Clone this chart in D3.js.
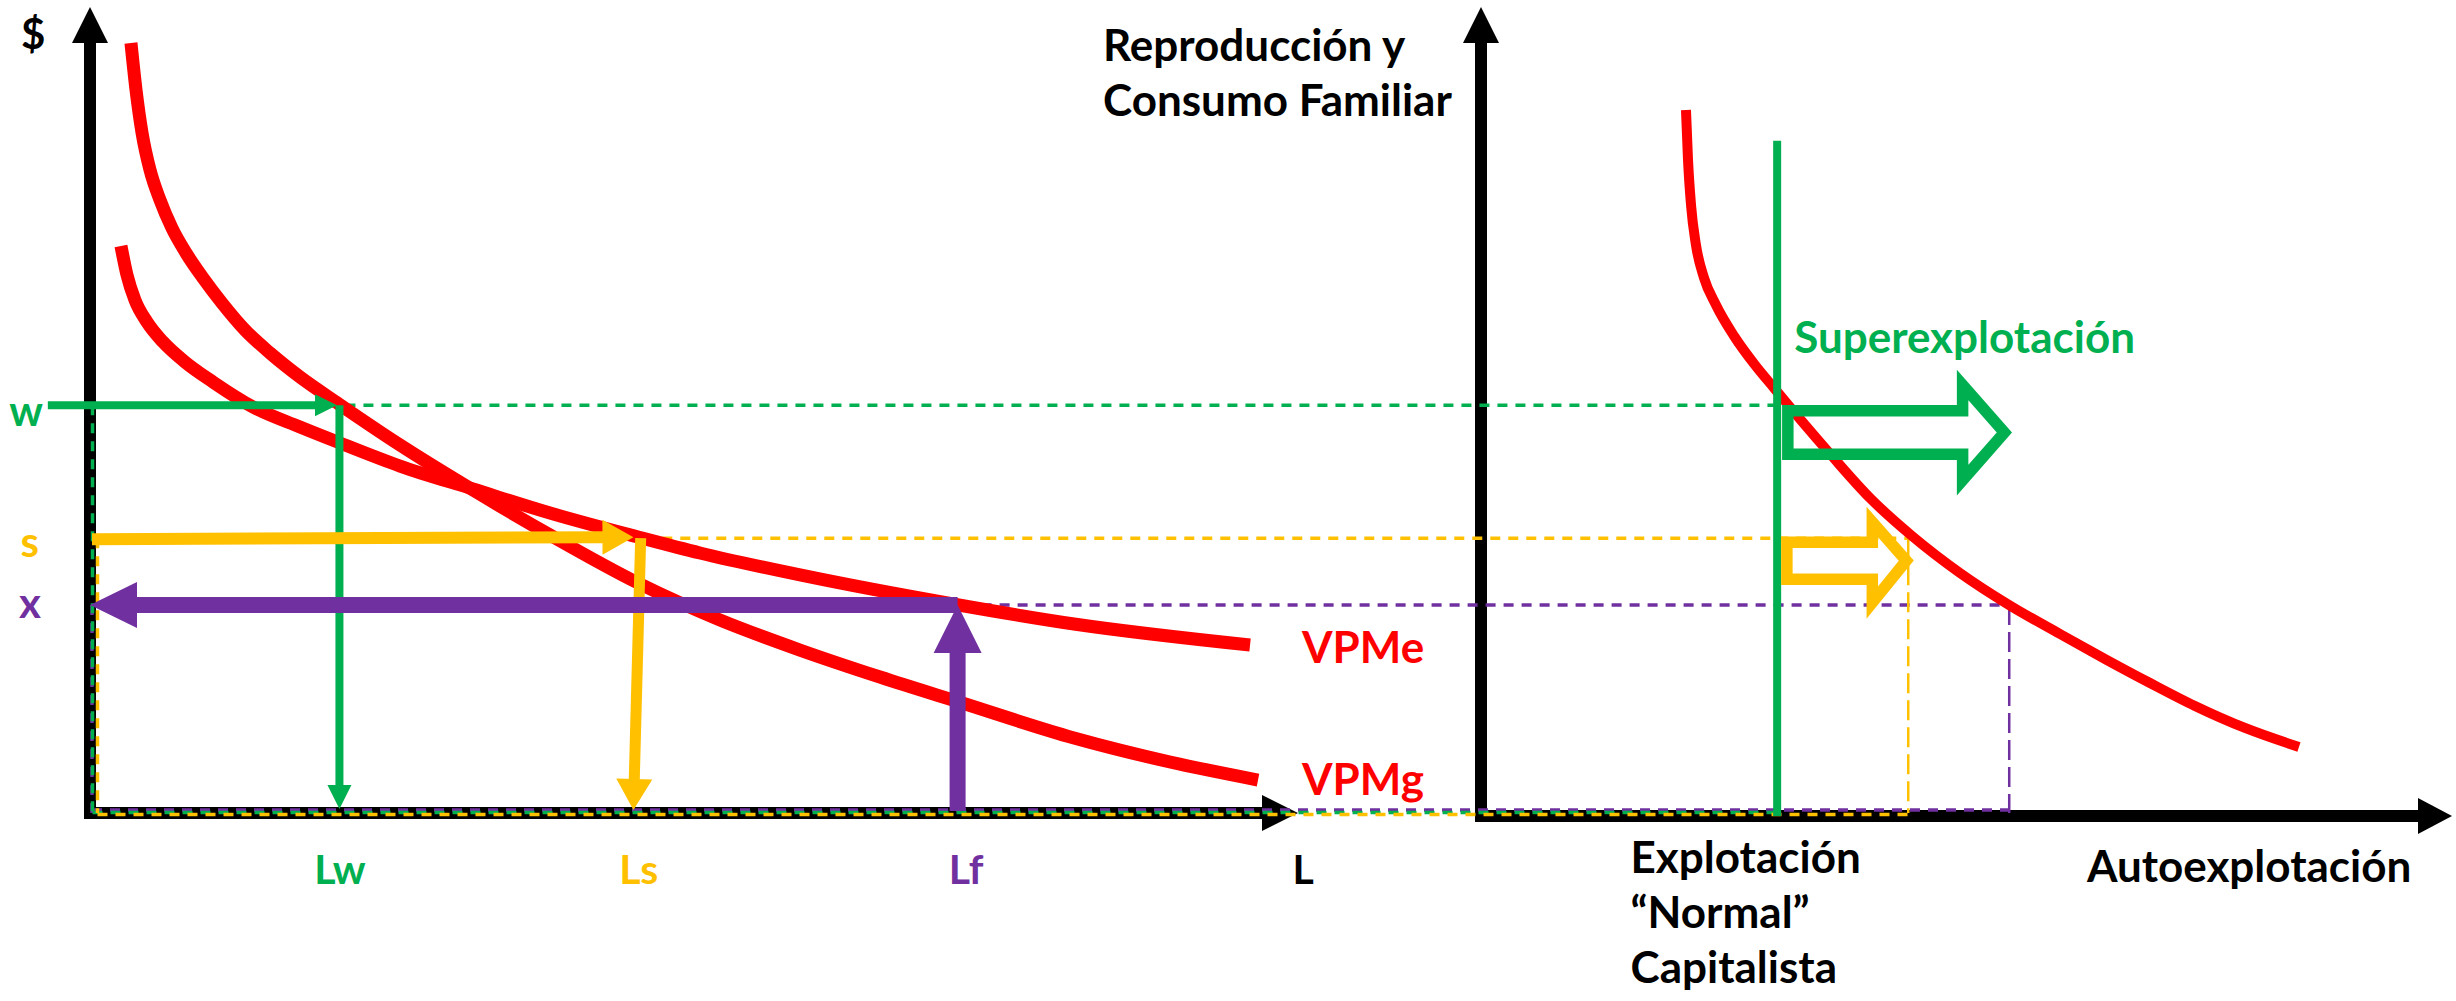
<!DOCTYPE html>
<html><head><meta charset="utf-8">
<script src="https://cdn.jsdelivr.net/npm/d3@7"></script>
<style>html,body{margin:0;padding:0;background:#fff;}svg{display:block;}</style>
</head><body>
<svg id="c" width="2456" height="1001"></svg>
<script>
// ================= DATA =================
// price levels on the $ axis (w, s, x)
const priceNames  = ["w", "s", "x"];
const priceLevels = [50.6, 34.1, 25.8];
// labour quantities on the L axis
const laborNames  = ["Lw", "Ls", "Lf", "L"];
const laborValues = [20.7, 45.5, 72.0, 100.3];
// VPMg curve (steep)
const vpmgL = [3.40, 3.82, 4.32, 4.98, 5.81, 6.80, 7.97, 9.38, 10.95, 12.86, 14.94, 17.43, 20.66, 25.73, 31.78, 38.17, 45.48, 52.28, 58.92, 65.56, 72.12, 81.66, 89.63, 96.93];
const vpmgV = [95.53, 89.70, 84.37, 79.78, 76.05, 72.58, 69.48, 66.38, 63.28, 59.93, 57.07, 54.09, 50.74, 45.66, 40.07, 34.49, 28.54, 23.95, 20.22, 16.87, 13.77, 9.31, 6.33, 4.09];
// VPMe curve (flatter)
const vpmeL = [2.57, 3.07, 3.73, 4.73, 6.06, 7.88, 10.21, 13.53, 17.43, 20.75, 25.73, 31.78, 38.17, 45.48, 50.62, 58.92, 71.62, 81.66, 96.27];
const vpmeV = [70.35, 66.75, 63.65, 60.92, 58.44, 55.96, 53.47, 50.37, 47.89, 45.91, 43.05, 40.20, 37.22, 34.24, 32.26, 29.53, 25.93, 23.45, 20.84];
const curveNames = ["VPMg", "VPMe"];
// right panel: reproduction / family consumption curve
const rightX = [21.11, 21.32, 21.63, 22.14, 22.97, 24.20, 26.06, 28.22, 30.18, 32.85, 36.05, 40.06, 44.39, 49.33, 54.38, 59.63, 64.47, 68.90, 73.53, 78.68, 84.24];
const rightV = [87.22, 81.02, 75.43, 70.47, 66.38, 63.03, 59.18, 55.58, 52.73, 48.88, 44.42, 39.08, 34.37, 29.78, 25.81, 22.21, 18.98, 16.13, 13.28, 10.55, 8.19];
// where each price level meets the right panel (w, s, x)
const rightReach = [30.5, 44.0, 54.4];
const normalTop = 83.4;           // top of "normal exploitation" line
// left-panel arrows
const wArrowStart = -3.5;         // green w arrow starts left of the axis
const wArrowEnd   = 20.5;
const sArrowEnd   = 45.1;
const sDropTop    = 45.7, sDropBottom = 45.1;
// hollow shift arrows (green = superexplotación, yellow = s)
const shiftFrom       = [31.6, 31.5];
const shiftHeadBase   = [49.6, 40.3];
const shiftTip        = [53.9, 43.8];
const shiftShaftTop   = [49.9, 33.6];
const shiftShaftBot   = [44.5, 29.0];
const shiftHeadTop    = [53.1, 36.1];
const shiftHeadBot    = [41.3, 26.1];
// texts
const yAxisTitle   = "$";
const rightTitle   = ["Reproducción y", "Consumo Familiar"];
const superLabel   = "Superexplotación";
const normalLabel  = ["Explotación", "“Normal”", "Capitalista"];
const autoLabel    = "Autoexplotación";
const bottomLabelPos = [15.4, 62.4];

// ================= STYLE =================
const RED = "#FF0000", GREEN = "#00B050", YEL = "#FFC000", PUR = "#7030A0", BLK = "#000";
const levelColors = [GREEN, YEL, PUR];
const laborColors = [GREEN, YEL, PUR, BLK];
const FONT = "Lato, Carlito, Calibri, 'Open Sans', sans-serif";

const svg = d3.select("#c");
const xL = d3.scaleLinear().domain([0, 100]).range([90, 1295]);
const yS = d3.scaleLinear().domain([0, 100]).range([813, 7]);
const xR = d3.scaleLinear().domain([0, 100]).range([1481, 2452]);

function arrow(g, x1, y1, x2, y2, color, w, hl, hh) {
  const dx = x2 - x1, dy = y2 - y1, L = Math.hypot(dx, dy), ux = dx / L, uy = dy / L;
  const bx = x2 - ux * hl, by = y2 - uy * hl;
  g.append("line").attr("x1", x1).attr("y1", y1).attr("x2", bx + ux).attr("y2", by + uy)
    .attr("stroke", color).attr("stroke-width", w);
  g.append("path").attr("d", `M${x2},${y2}L${bx - uy * hh},${by + ux * hh}L${bx + uy * hh},${by - ux * hh}Z`)
    .attr("fill", color);
}
function dash(g, x1, y1, x2, y2, color, w, pat) {
  g.append("line").attr("x1", x1).attr("y1", y1).attr("x2", x2).attr("y2", y2)
    .attr("stroke", color).attr("stroke-width", w).attr("stroke-dasharray", pat || "10,8");
}

// ---------- axes ----------
const gAx = svg.append("g");
const y0 = yS(0);
gAx.append("line").attr("x1", xL(0)).attr("y1", y0 + 6).attr("x2", xL(0)).attr("y2", yS(100) + 35)
  .attr("stroke", BLK).attr("stroke-width", 12);
arrow(gAx, xL(0), y0, xL(0), yS(100), BLK, 12, 36, 18);
arrow(gAx, xL(0) - 6, y0, xL(100) + 3, y0, BLK, 12, 36, 18);
arrow(gAx, xR(0), y0 + 9, xR(0), yS(100), BLK, 12, 36, 18);
arrow(gAx, xR(0) - 6, y0 + 3, xR(100), y0 + 3, BLK, 12, 34, 18);

// ---------- dashed guide rectangles ----------
const gD = svg.append("g");
const startL = [laborValues[0], laborValues[1], laborValues[2]];
const leftDashX = [xL(0) + 2.5, xL(0) + 7.5, xL(0) + 2];
const baseDashY = [y0 - 0.5, y0 + 1.5, y0 - 3];
[2, 0, 1].forEach(i => {
  const c = levelColors[i], yy = yS(priceLevels[i]);
  dash(gD, xL(startL[i]) + 6, yy, xR(rightReach[i]), yy, c, 3.5);
  dash(gD, leftDashX[i], yy, leftDashX[i], y0, c, 3.5);
  dash(gD, leftDashX[i], baseDashY[i], xR(rightReach[i]), baseDashY[i], c, 3.5);
  if (i > 0) dash(gD, xR(rightReach[i]), yy, xR(rightReach[i]), y0, c, 2.5, "20,7");
});

// ---------- red curves ----------
const gC = svg.append("g");
const lineL = d3.line().x(d => xL(d[0])).y(d => yS(d[1])).curve(d3.curveMonotoneX);
const lineR = d3.line().x(d => xR(d[0])).y(d => yS(d[1])).curve(d3.curveMonotoneX);
const vpmg = d3.zip(vpmgL, vpmgV), vpme = d3.zip(vpmeL, vpmeV);
gC.append("path").attr("d", lineL(vpmg)).attr("fill", "none").attr("stroke", RED).attr("stroke-width", 13);
gC.append("path").attr("d", lineL(vpme)).attr("fill", "none").attr("stroke", RED).attr("stroke-width", 13);
gC.append("path").attr("d", lineR(d3.zip(rightX, rightV))).attr("fill", "none").attr("stroke", RED).attr("stroke-width", 10);

// ---------- right panel: normal exploitation line + hollow arrows ----------
const gR = svg.append("g");
gR.append("line").attr("x1", xR(rightReach[0])).attr("x2", xR(rightReach[0]))
  .attr("y1", yS(normalTop)).attr("y2", y0 + 3).attr("stroke", GREEN).attr("stroke-width", 8);
[0, 1].forEach(i => {
  const c = i === 0 ? GREEN : YEL;
  const tipY = (shiftShaftTop[i] + shiftShaftBot[i]) / 2;
  const pts = [
    [shiftFrom[i], shiftShaftTop[i]], [shiftHeadBase[i], shiftShaftTop[i]], [shiftHeadBase[i], shiftHeadTop[i]],
    [shiftTip[i], tipY], [shiftHeadBase[i], shiftHeadBot[i]], [shiftHeadBase[i], shiftShaftBot[i]],
    [shiftFrom[i], shiftShaftBot[i]]
  ];
  gR.append("path").attr("d", d3.line().x(d => xR(d[0])).y(d => yS(d[1]))(pts) + "Z")
    .attr("fill", "none").attr("stroke", c).attr("stroke-width", 11.5).attr("stroke-linejoin", "miter")
    .attr("stroke-miterlimit", 10);
});

// ---------- left panel solid arrows ----------
const gA = svg.append("g");
const yw = yS(priceLevels[0]), ys = yS(priceLevels[1]), yx = yS(priceLevels[2]);
arrow(gA, xL(wArrowStart), yw, xL(wArrowEnd), yw, GREEN, 8, 22, 11);
arrow(gA, xL(laborValues[0]), yw, xL(laborValues[0]), y0 - 4, GREEN, 8, 24, 12);
arrow(gA, xL(0) + 2, ys + 1, xL(sArrowEnd), ys - 1, YEL, 12, 31, 17.5);
arrow(gA, xL(sDropTop), ys, xL(sDropBottom), y0 - 3, YEL, 11, 31, 18);
arrow(gA, xL(laborValues[2]), yx, xL(0), yx, PUR, 16, 47, 23);
arrow(gA, xL(laborValues[2]), y0 - 2, xL(laborValues[2]), yx, PUR, 16, 48, 24);

// ---------- axis labels via d3 axes ----------
const priceDy = [20, 18, 12], priceDx = [0, -4, -2];
const gy = svg.append("g").attr("transform", `translate(${xL(0)},0)`)
  .call(d3.axisLeft(yS).tickValues(priceLevels).tickFormat((d, i) => priceNames[i]).tickSize(0).tickPadding(47));
gy.select(".domain").remove();
gy.selectAll("text").attr("fill", (d, i) => levelColors[i]).attr("dy", null)
  .attr("transform", (d, i) => `translate(${priceDx[i]},${priceDy[i]})`)
  .style("font-family", FONT).style("font-weight", 700).style("font-size", "42px");

const laborDx = [0, 0, 8, 4];
const gx = svg.append("g").attr("transform", `translate(0,${y0})`)
  .call(d3.axisBottom(xL).tickValues(laborValues).tickFormat((d, i) => laborNames[i]).tickSize(0).tickPadding(0));
gx.select(".domain").remove();
gx.selectAll("text").attr("fill", (d, i) => laborColors[i]).attr("dy", null).attr("y", 71)
  .attr("transform", (d, i) => `translate(${laborDx[i]},0)`)
  .style("font-family", FONT).style("font-weight", 700).style("font-size", "41px");

// ---------- other texts ----------
const gT = svg.append("g").style("font-family", FONT).style("font-weight", 700).style("font-size", "44px");
gT.append("text").attr("x", 21).attr("y", 49).attr("fill", BLK).style("font-size", "42px").text(yAxisTitle);
// curve labels
[[vpmgL, vpmgV], [vpmeL, vpmeV]].forEach((c, i) => {
  const n = c[0].length - 1;
  gT.append("text").attr("x", xL(c[0][n]) + (i === 0 ? 44 : 52)).attr("y", yS(c[1][n]) + (i === 0 ? 15 : 18))
    .attr("fill", RED).text(curveNames[i]);
});
rightTitle.forEach((t, i) => gT.append("text").attr("x", xR(0) - 378).attr("y", 61 + i * 55).attr("fill", BLK).text(t));
gT.append("text").attr("x", xR(rightReach[0]) + 17).attr("y", 353).attr("fill", GREEN).text(superLabel);
normalLabel.forEach((t, i) => gT.append("text").attr("x", xR(bottomLabelPos[0])).attr("y", 873 + i * 55).attr("fill", BLK).text(t));
gT.append("text").attr("x", xR(bottomLabelPos[1])).attr("y", 882).attr("fill", BLK).text(autoLabel);
</script>
</body></html>
